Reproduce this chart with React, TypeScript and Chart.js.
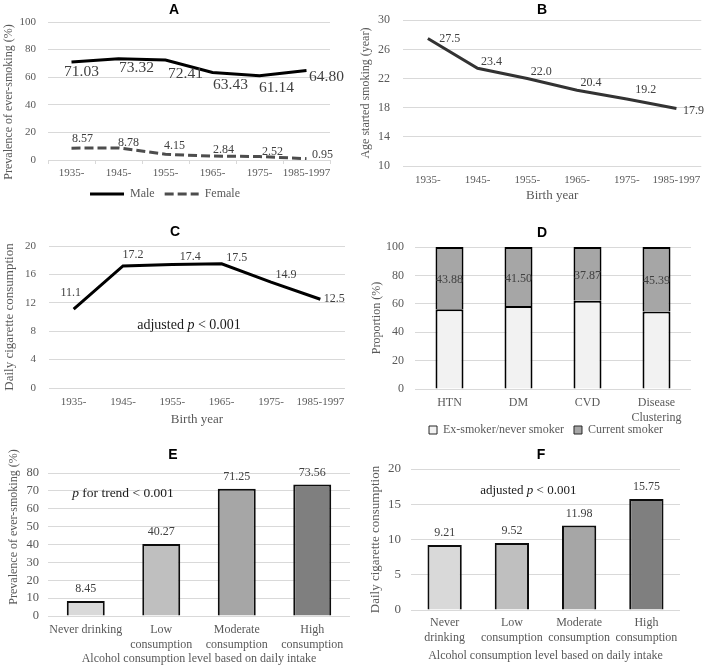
import React, { useEffect, useRef } from 'react';
import { Chart, registerables } from 'chart.js';

Chart.register(...registerables);

// ---------------- data ----------------
const birthYears = ['1935-', '1945-', '1955-', '1965-', '1975-', '1985-1997'];
const maleEverSmoking = [71.03, 73.32, 72.41, 63.43, 61.14, 64.8];
const femaleEverSmoking = [8.57, 8.78, 4.15, 2.84, 2.52, 0.95];
const ageStartedSmoking = [27.5, 23.4, 22.0, 20.4, 19.2, 17.9];
const dailyCigByBirth = [11.1, 17.2, 17.4, 17.5, 14.9, 12.5];
const diseaseGroups = ['HTN', 'DM', 'CVD', ['Disease', 'Clustering']];
const exNeverSmoker = [56.12, 58.5, 62.13, 54.61];
const currentSmoker = [43.88, 41.5, 37.87, 45.39];
const alcoholLevelsE = ['Never drinking', ['Low', 'consumption'], ['Moderate', 'consumption'], ['High', 'consumption']];
const alcoholLevelsF = [['Never', 'drinking'], ['Low', 'consumption'], ['Moderate', 'consumption'], ['High', 'consumption']];
const everSmokingByAlcohol = [8.45, 40.27, 71.25, 73.56];
const dailyCigByAlcohol = [9.21, 9.52, 11.98, 15.75];
const yTicksA = { min: 0, max: 100, step: 20 };
const yTicksB = { min: 10, max: 30, step: 4 };
const yTicksC = { min: 0, max: 20, step: 4 };
const yTicksD = { min: 0, max: 100, step: 20 };
const yTicksE = { min: 0, max: 80, step: 10 };
const yTicksF = { min: 0, max: 20, step: 5 };

// ---------------- styles ----------------
const SERIF = "'Liberation Serif', 'Times New Roman', serif";
const SANS = "'Liberation Sans', Arial, sans-serif";
const GRID = '#d9d9d9';
const TXT = '#595959';
const LBL = '#404040';
const barGrays = ['#d9d9d9', '#bfbfbf', '#a6a6a6', '#7f7f7f'];

Chart.defaults.font.family = SERIF;
Chart.defaults.color = TXT;

type LabelItem = { ds: number; offsets: number[][]; decimals: number; center?: boolean; size?: number };
function labelsPlugin(items: LabelItem[]) {
  return {
    id: 'valueLabels',
    afterDatasetsDraw(chart: any) {
      const ctx = chart.ctx;
      items.forEach((it) => {
        const meta = chart.getDatasetMeta(it.ds);
        const data = chart.data.datasets[it.ds].data as number[];
        meta.data.forEach((el: any, i: number) => {
          const x = el.x;
          let y = el.y;
          if (it.center) y = (el.y + el.base) / 2;
          const off = it.offsets[i] || it.offsets[0];
          ctx.save();
          ctx.font = `${it.size || 12}px ${SERIF}`;
          ctx.fillStyle = LBL;
          ctx.textAlign = 'center';
          ctx.textBaseline = 'middle';
          ctx.fillText(Number(data[i]).toFixed(it.decimals), x + off[0], y + off[1]);
          ctx.restore();
        });
      });
    },
  };
}

type Part = { t: string; italic?: boolean };
type Note = { x: number; y: number; parts: Part[]; size: number; family: string; weight?: string; color: string; rotate?: boolean };
function notesPlugin(notes: Note[]) {
  return {
    id: 'notes',
    afterDraw(chart: any) {
      const ctx = chart.ctx;
      notes.forEach((n) => {
        ctx.save();
        ctx.translate(n.x, n.y);
        if (n.rotate) ctx.rotate(-Math.PI / 2);
        ctx.textBaseline = 'middle';
        ctx.textAlign = 'left';
        ctx.fillStyle = n.color;
        const fontOf = (p: Part) => `${p.italic ? 'italic ' : ''}${n.weight || 'normal'} ${n.size}px ${n.family}`;
        let total = 0;
        const widths = n.parts.map((p) => {
          ctx.font = fontOf(p);
          const w = ctx.measureText(p.t).width;
          total += w;
          return w;
        });
        let x = -total / 2;
        n.parts.forEach((p, i) => {
          ctx.font = fontOf(p);
          ctx.fillText(p.t, x, 0);
          x += widths[i];
        });
        ctx.restore();
      });
    },
  };
}

// lets multi-line category labels extend below the x-axis box without being clipped
const extendXLabelArea = (extra: number) => ({
  id: 'extendXLabelArea',
  afterLayout(chart: any) {
    const s = chart.scales.x;
    if (s) s.bottom = s.bottom + extra;
  },
});

const letter = (t: string, x: number, y: number): Note => ({
  x, y, parts: [{ t }], size: 14, family: SANS, weight: 'bold', color: '#000',
});
const sideTitle = (t: string, x: number, y: number, size: number): Note => ({
  x, y, parts: [{ t }], size, family: SERIF, color: TXT, rotate: true,
});

function yAxis(t: { min: number; max: number; step: number }, opts: any) {
  return {
    position: 'left',
    min: t.min,
    max: t.max,
    afterFit: (s: any) => { s.width = opts.width; },
    ticks: { stepSize: t.step, autoSkip: false, padding: opts.pad, font: { size: opts.tickSize, family: SERIF }, color: TXT },
    grid: { color: GRID, drawTicks: false, lineWidth: 1 },
    border: { display: false },
    title: opts.title
      ? {
          display: true,
          text: opts.title,
          color: TXT,
          font: { size: opts.titleSize, family: SERIF },
          padding: { top: opts.titlePad, bottom: 0 },
        }
      : { display: false },
  };
}

function xAxis(opts: any) {
  return {
    type: 'category',
    offset: true,
    stacked: !!opts.stacked,
    afterFit: (s: any) => { s.height = opts.height; },
    ticks: { padding: opts.pad, font: { size: opts.tickSize, family: SERIF }, color: TXT, maxRotation: 0, autoSkip: false },
    grid: opts.tickMarks
      ? { display: true, drawOnChartArea: false, drawTicks: true, tickLength: 4, color: GRID, offset: true }
      : { display: false, drawTicks: false },
    border: { display: false },
    title: opts.title
      ? { display: true, text: opts.title, color: TXT, font: { size: opts.titleSize, family: SERIF }, padding: { top: 0, bottom: opts.titlePad } }
      : { display: false },
  };
}

// ---------------- configs ----------------
function configA() {
  return {
    type: 'line',
    data: {
      labels: birthYears,
      datasets: [
        { label: 'Male', data: maleEverSmoking, borderColor: '#000', backgroundColor: '#000', borderWidth: 3, pointRadius: 0, tension: 0 },
        { label: 'Female', data: femaleEverSmoking, borderColor: '#4d4d4d', backgroundColor: '#4d4d4d', borderWidth: 3, borderDash: [9, 4], pointRadius: 0, tension: 0 },
      ],
    },
    options: {
      responsive: false, animation: false, devicePixelRatio: 1,
      layout: { padding: { left: 0, right: 24, top: 22, bottom: 0 } },
      plugins: {
        legend: {
          display: true, position: 'bottom',
          labels: {
            usePointStyle: true, pointStyle: 'line', pointStyleWidth: 34, padding: 10, color: TXT, font: { size: 12, family: SERIF },
            generateLabels: (chart: any) =>
              Chart.defaults.plugins.legend.labels.generateLabels(chart).map((l: any, i: number) => ({
                ...l, pointStyle: 'line', lineWidth: 3, lineDash: i === 1 ? [9, 4] : [],
              })),
          },
        },
        tooltip: { enabled: false },
      },
      scales: {
        x: xAxis({ height: 18, pad: 2.4, tickSize: 11, tickMarks: true }),
        y: yAxis(yTicksA, { width: 48, pad: 12, tickSize: 11 }),
      },
    },
    plugins: [
      labelsPlugin([
        { ds: 0, decimals: 2, size: 15.5, offsets: [[10, 10], [18, 9], [20, 14], [18, 12], [17, 12], [20, 6]] },
        { ds: 1, decimals: 2, offsets: [[11, -9], [10, -5], [9, -8], [11, -6], [13, -5], [16, -4]] },
      ]),
      notesPlugin([letter('A', 174, 10), sideTitle('Prevalence of ever-smoking (%)', 8.5, 102, 12)]),
    ],
  };
}

function configB() {
  return {
    type: 'line',
    data: {
      labels: birthYears,
      datasets: [
        { label: 'Age started smoking', data: ageStartedSmoking, borderColor: '#333', borderWidth: 3, pointRadius: 0, tension: 0 },
      ],
    },
    options: {
      responsive: false, animation: false, devicePixelRatio: 1,
      layout: { padding: { left: 0, right: 4, top: 20, bottom: 0 } },
      plugins: { legend: { display: false }, tooltip: { enabled: false } },
      scales: {
        x: xAxis({ height: 44, pad: 7.4, tickSize: 11, title: 'Birth year', titleSize: 13, titlePad: 6.2 }),
        y: yAxis(yTicksB, { width: 49, pad: 13, tickSize: 12, title: 'Age started smoking (year)', titleSize: 12, titlePad: 4.5 }),
      },
    },
    plugins: [
      labelsPlugin([{ ds: 0, decimals: 1, offsets: [[22, 0], [14, -6.5], [14, -6.7], [14, -7], [19, -9], [17, 2]] }]),
      notesPlugin([letter('B', 188, 10)]),
    ],
  };
}

function configC() {
  return {
    type: 'line',
    data: {
      labels: birthYears,
      datasets: [
        { label: 'Daily cigarette consumption', data: dailyCigByBirth, borderColor: '#000', borderWidth: 3, pointRadius: 0, tension: 0 },
      ],
    },
    options: {
      responsive: false, animation: false, devicePixelRatio: 1,
      layout: { padding: { left: 0, right: 9, top: 36, bottom: 0 } },
      plugins: { legend: { display: false }, tooltip: { enabled: false } },
      scales: {
        x: xAxis({ height: 42, pad: 7.4, tickSize: 11, title: 'Birth year', titleSize: 13, titlePad: 2.2 }),
        y: yAxis(yTicksC, { width: 49, pad: 13, tickSize: 11, title: 'Daily cigarette consumption', titleSize: 13, titlePad: 1.4 }),
      },
    },
    plugins: [
      labelsPlugin([{ ds: 0, decimals: 1, offsets: [[-3, -16], [10, -11], [18, -8], [15, -5.5], [15, -7], [14, 0]] }]),
      notesPlugin([
        letter('C', 175, 22),
        { x: 189, y: 115, parts: [{ t: 'adjusted ' }, { t: 'p', italic: true }, { t: ' < 0.001' }], size: 14, family: SERIF, color: '#1a1a1a' },
      ]),
    ],
  };
}

function configD() {
  return {
    type: 'bar',
    data: {
      labels: diseaseGroups,
      datasets: [
        { label: 'Ex-smoker/never smoker', data: exNeverSmoker, backgroundColor: '#f2f2f2', borderColor: '#000', borderWidth: 2, barPercentage: 0.406, categoryPercentage: 1 },
        { label: 'Current smoker', data: currentSmoker, backgroundColor: '#a6a6a6', borderColor: '#000', borderWidth: 2, barPercentage: 0.406, categoryPercentage: 1 },
      ],
    },
    options: {
      responsive: false, animation: false, devicePixelRatio: 1,
      layout: { padding: { left: 30, right: 0, top: 37, bottom: 0 } },
      plugins: {
        legend: {
          display: true, position: 'bottom',
          labels: {
            boxWidth: 8, boxHeight: 8, padding: 10, color: TXT, font: { size: 12, family: SERIF },
            generateLabels: (chart: any) =>
              Chart.defaults.plugins.legend.labels.generateLabels(chart).map((l: any) => ({ ...l, lineWidth: 1, strokeStyle: '#262626' })),
          },
        },
        tooltip: { enabled: false },
      },
      scales: {
        x: xAxis({ height: 25, pad: 6.8, tickSize: 12, stacked: true }),
        y: { ...yAxis(yTicksD, { width: 31, pad: 11, tickSize: 12, title: 'Proportion (%)', titleSize: 12, titlePad: -14.7 }), stacked: true },
        yRight: {
          type: 'linear', position: 'right', display: true,
          afterFit: (s: any) => { s.width = 17; },
          ticks: { display: false }, grid: { display: false, drawTicks: false }, border: { display: false }, title: { display: false },
        },
      },
    },
    plugins: [
      extendXLabelArea(20),
      labelsPlugin([{ ds: 1, decimals: 2, center: true, offsets: [[0, 2]] }]),
      notesPlugin([letter('D', 188, 23)]),
    ],
  };
}

function configE() {
  return {
    type: 'bar',
    data: {
      labels: alcoholLevelsE,
      datasets: [
        { label: 'Prevalence of ever-smoking', data: everSmokingByAlcohol, backgroundColor: barGrays, borderColor: '#0d0d0d', borderWidth: 2, barPercentage: 0.503, categoryPercentage: 1 },
      ],
    },
    options: {
      responsive: false, animation: false, devicePixelRatio: 1,
      layout: { padding: { left: 0, right: 4, top: 43, bottom: 0 } },
      plugins: { legend: { display: false }, tooltip: { enabled: false } },
      scales: {
        x: xAxis({ height: 56, pad: 6.8, tickSize: 12, title: 'Alcohol consumption level based on daily intake', titleSize: 12, titlePad: 5.5 }),
        y: yAxis(yTicksE, { width: 48, pad: 9, tickSize: 12.5 }),
      },
    },
    plugins: [
      labelsPlugin([{ ds: 0, decimals: 2, offsets: [[0, -12]] }]),
      notesPlugin([
        letter('E', 173, 25),
        sideTitle('Prevalence of ever-smoking (%)', 14, 97, 12),
        { x: 123, y: 63, parts: [{ t: 'p', italic: true }, { t: ' for trend < 0.001' }], size: 13.5, family: SERIF, color: '#1a1a1a' },
      ]),
    ],
  };
}

function configF() {
  return {
    type: 'bar',
    data: {
      labels: alcoholLevelsF,
      datasets: [
        { label: 'Daily cigarette consumption', data: dailyCigByAlcohol, backgroundColor: barGrays, borderColor: '#0d0d0d', borderWidth: 2, barPercentage: 0.51, categoryPercentage: 1 },
      ],
    },
    options: {
      responsive: false, animation: false, devicePixelRatio: 1,
      layout: { padding: { left: 0, right: 28, top: 39, bottom: 0 } },
      plugins: { legend: { display: false }, tooltip: { enabled: false } },
      scales: {
        x: xAxis({ height: 62, pad: 6.1, tickSize: 12, title: 'Alcohol consumption level based on daily intake', titleSize: 12, titlePad: 8.8 }),
        y: yAxis(yTicksF, { width: 57, pad: 10, tickSize: 13, title: 'Daily cigarette consumption', titleSize: 13, titlePad: 14 }),
      },
    },
    plugins: [
      labelsPlugin([{ ds: 0, decimals: 2, offsets: [[0, -12]] }]),
      notesPlugin([
        letter('F', 187, 25),
        { x: 174.3, y: 60.7, parts: [{ t: 'adjusted ' }, { t: 'p', italic: true }, { t: ' < 0.001' }], size: 13, family: SERIF, color: '#1a1a1a' },
      ]),
    ],
  };
}

// ---------------- components ----------------
type Rect = { x: number; y: number; w: number; h: number };

function Panel({ rect, make }: { rect: Rect; make: () => any }) {
  const ref = useRef<HTMLCanvasElement>(null);
  useEffect(() => {
    const chart = new Chart(ref.current as HTMLCanvasElement, make());
    return () => chart.destroy();
  }, []);
  return (
    <div style={{ position: 'absolute', left: rect.x, top: rect.y, width: rect.w, height: rect.h }}>
      <canvas ref={ref} width={rect.w} height={rect.h} style={{ display: 'block', width: rect.w, height: rect.h }} />
    </div>
  );
}

export default function App() {
  return (
    <div style={{ position: 'absolute', left: 0, top: 0, width: 708, height: 672, background: '#fff' }}>
      <Panel rect={{ x: 0, y: 0, w: 354, h: 210 }} make={configA} />
      <Panel rect={{ x: 354, y: 0, w: 354, h: 210 }} make={configB} />
      <Panel rect={{ x: 0, y: 210, w: 354, h: 220 }} make={configC} />
      <Panel rect={{ x: 354, y: 210, w: 354, h: 236 }} make={configD} />
      <Panel rect={{ x: 0, y: 430, w: 354, h: 242 }} make={configE} />
      <Panel rect={{ x: 354, y: 430, w: 354, h: 242 }} make={configF} />
    </div>
  );
}
